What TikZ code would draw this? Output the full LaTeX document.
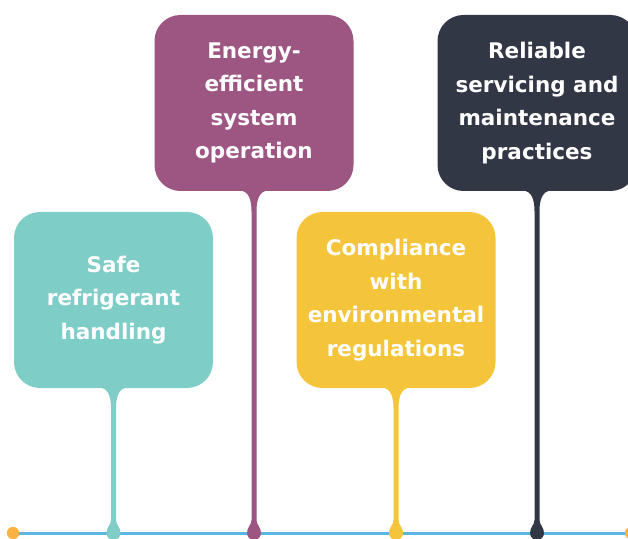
\documentclass[tikz,border=0pt]{standalone}
\usepackage{fontspec}
\setmainfont{DejaVu Sans}
\usetikzlibrary{calc}

\definecolor{tealbox}{HTML}{7FCDC7}
\definecolor{plumbox}{HTML}{9D5582}
\definecolor{goldbox}{HTML}{F4C53B}
\definecolor{slatebox}{HTML}{323746}
\definecolor{axisblue}{HTML}{5AB6E4}
\definecolor{dotorange}{HTML}{FBB245}

\tikzset{%
  % Specifications for the callout cards and the time axis:
         card/.style =  { rectangle, rounded corners=26pt, minimum width=199pt, minimum height=176pt, inner sep=0pt, text=white, align=center, font=\bfseries\fontsize{21.5}{33.5}\selectfont },
         axis/.style =  { axisblue, line width=3pt },
         enddot/.style = { circle, fill=dotorange, minimum size=12pt, inner sep=0pt },
}

% funnel, stem and drop from a card down to the axis: #1 card, #2 colour
\newcommand{\stemdrop}[2]{%
  \fill[#2] ($(#1.south)+(-11,0)$) .. controls +(7,-2) and +(0,8) .. ($(#1.south)+(-2.5,-20)$)
    -- ($(#1.south |- axis)+(-2.5,13)$) .. controls +(0,-5) and +(0,6) .. ($(#1.south |- axis)+(-7,0)$)
    arc[start angle=180, end angle=360, radius=7pt]
    .. controls +(0,6) and +(0,-5) .. ($(#1.south |- axis)+(2.5,13)$)
    -- ($(#1.south)+(2.5,-20)$) .. controls +(0,8) and +(-7,-2) .. ($(#1.south)+(11,0)$) -- cycle;
}

\begin{document}
\begin{tikzpicture}[x=1pt, y=1pt]
    \useasboundingbox (0,0) rectangle (628,538);
    \clip (0,0) rectangle (628,538);

    % Draw the axis
    \coordinate (axis) at (0,5);
    \node (start) [enddot] at (13,5)  {};
    \node (stop)  [enddot] at (631,5) {};
    \draw[axis] (start) -- (stop);

    % Draw cards
    \node (safety)     [card, fill=tealbox]  at (113.5,238) {Safe\\refrigerant\\handling};
    \node (energy)     [card, fill=plumbox]  at (254,435)   {Energy-\\efficient\\system\\operation};
    \node (compliance) [card, fill=goldbox]  at (396,238)   {Compliance\\with\\environmental\\regulations};
    \node (servicing)  [card, fill=slatebox] at (537,435)   {Reliable\\servicing and\\maintenance\\practices};

    % Draw stems
    \stemdrop{safety}{tealbox}
    \stemdrop{energy}{plumbox}
    \stemdrop{compliance}{goldbox}
    \stemdrop{servicing}{slatebox}

    % end dots on top of the axis
    \fill[dotorange] (start) circle (6pt) (stop) circle (6pt);
\end{tikzpicture}
\end{document}
